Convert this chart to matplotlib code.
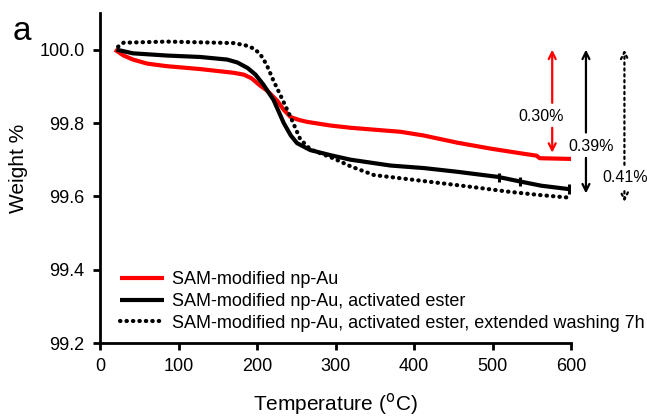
import matplotlib
matplotlib.use("Agg")
import matplotlib.pyplot as plt
import numpy as np

plt.rcParams['font.family'] = ['Liberation Sans', 'DejaVu Sans']

# ---- data ----
red_T = [19, 30, 42, 60, 85, 128, 170, 183, 193, 204, 213, 226, 234, 243, 254, 264, 294, 319, 383, 412, 456, 498, 540, 556, 560, 600]
red_W = [100.0, 99.984, 99.973, 99.962, 99.955, 99.947, 99.937, 99.932, 99.922, 99.902, 99.888, 99.86, 99.836, 99.816, 99.808, 99.803, 99.793, 99.787, 99.776, 99.766, 99.746, 99.73, 99.716, 99.711, 99.704, 99.702]

blk_T = [21, 42, 85, 128, 162, 175, 188, 198, 208, 221, 234, 243, 251, 268, 294, 319, 370, 413, 455, 507, 534, 562, 600]
blk_W = [100.0, 99.99, 99.984, 99.98, 99.973, 99.965, 99.95, 99.932, 99.905, 99.863, 99.80, 99.766, 99.745, 99.726, 99.712, 99.70, 99.684, 99.677, 99.667, 99.653, 99.641, 99.629, 99.619]

dot_T = [23, 30, 85, 128, 170, 185, 196, 204, 212, 221, 230, 243, 255, 268, 298, 319, 349, 392, 434, 476, 519, 558, 600]
dot_W = [100.008, 100.019, 100.022, 100.02, 100.018, 100.012, 100.003, 99.988, 99.96, 99.915, 99.875, 99.815, 99.756, 99.728, 99.703, 99.682, 99.658, 99.647, 99.636, 99.625, 99.613, 99.604, 99.596]

err_T = [508, 535, 598]
err_W = [99.652, 99.640, 99.620]
err_E = [0.012, 0.013, 0.013]

labels = ["SAM-modified np-Au",
          "SAM-modified np-Au, activated ester",
          "SAM-modified np-Au, activated ester, extended washing 7h"]

xticks = [0, 100, 200, 300, 400, 500, 600]
yticks = [99.2, 99.4, 99.6, 99.8, 100.0]

# annotation arrows: x, top, upper-end, lower-start, bottom, text, text x, text y
arr_red = dict(x=576, top=100.0, up_end=99.855, lo_start=99.787, bottom=99.719, text="0.30%", tx=562, ty=99.817)
arr_blk = dict(x=619, top=100.0, up_end=99.774, lo_start=99.705, bottom=99.608, text="0.39%", tx=626, ty=99.735)
arr_dot = dict(x=668, top=100.0, up_end=99.686, lo_start=99.614, bottom=99.585, text="0.41%", tx=669, ty=99.651)

fig = plt.figure(figsize=(6.47, 4.18), dpi=100)
ax = fig.add_axes([0.1546, 0.1794, 0.728, 0.7895])

ax.plot(red_T, red_W, color='#ff0000', lw=3.0, solid_capstyle='butt', solid_joinstyle='round', label=labels[0])
ax.plot(blk_T, blk_W, color='black', lw=3.0, solid_capstyle='butt', solid_joinstyle='round', label=labels[1])
ax.plot(dot_T, dot_W, color='black', lw=3.0, linestyle=(0, (0.1, 1.45)),
        dash_capstyle='round', label=labels[2])
ax.errorbar(err_T, err_W, yerr=err_E, fmt='none', ecolor='black', elinewidth=2.2, capsize=0)

ax.set_xlim(0, 600)
ax.set_ylim(99.2, 100.1)
ax.set_xticks(xticks)
ax.set_yticks(yticks)
ax.set_yticklabels([f"{v:.1f}" for v in yticks])
for s in ['top', 'right']:
    ax.spines[s].set_visible(False)
for s in ['left', 'bottom']:
    ax.spines[s].set_linewidth(2.0)
ax.tick_params(axis='both', direction='out', length=5, width=2, labelsize=13, colors='black', pad=6)
ax.set_xlabel("Temperature ($^{\\mathrm{o}}$C)", fontsize=15, labelpad=11)
ax.set_ylabel("Weight %", fontsize=15)
ax.yaxis.set_label_coords(-0.152, 0.53)

ax.text(-0.186, 0.918, "a", transform=ax.transAxes, fontsize=24, va='baseline', ha='left')

def draw_arrow(a, color, ls='-'):
    kw = dict(arrowstyle='->,head_length=0.5,head_width=0.25', color=color, lw=1.6, linestyle=ls,
              shrinkA=0, shrinkB=0)
    ax.annotate('', xy=(a['x'], a['top']), xytext=(a['x'], a['up_end']),
                arrowprops=kw, annotation_clip=False)
    ax.annotate('', xy=(a['x'], a['bottom']), xytext=(a['x'], a['lo_start']),
                arrowprops=kw, annotation_clip=False)
    ax.text(a['tx'], a['ty'], a['text'], fontsize=11.5, ha='center', va='center', clip_on=False)

draw_arrow(arr_red, '#ff0000')
draw_arrow(arr_blk, 'black')
draw_arrow(arr_dot, 'black', ls=':')

leg = ax.legend(loc='upper left', bbox_to_anchor=(0.027, 0.24), frameon=False, fontsize=13,
                handlelength=2.45, handletextpad=0.45, labelspacing=0.27, borderaxespad=0)

fig.savefig("out.png", dpi=100)
